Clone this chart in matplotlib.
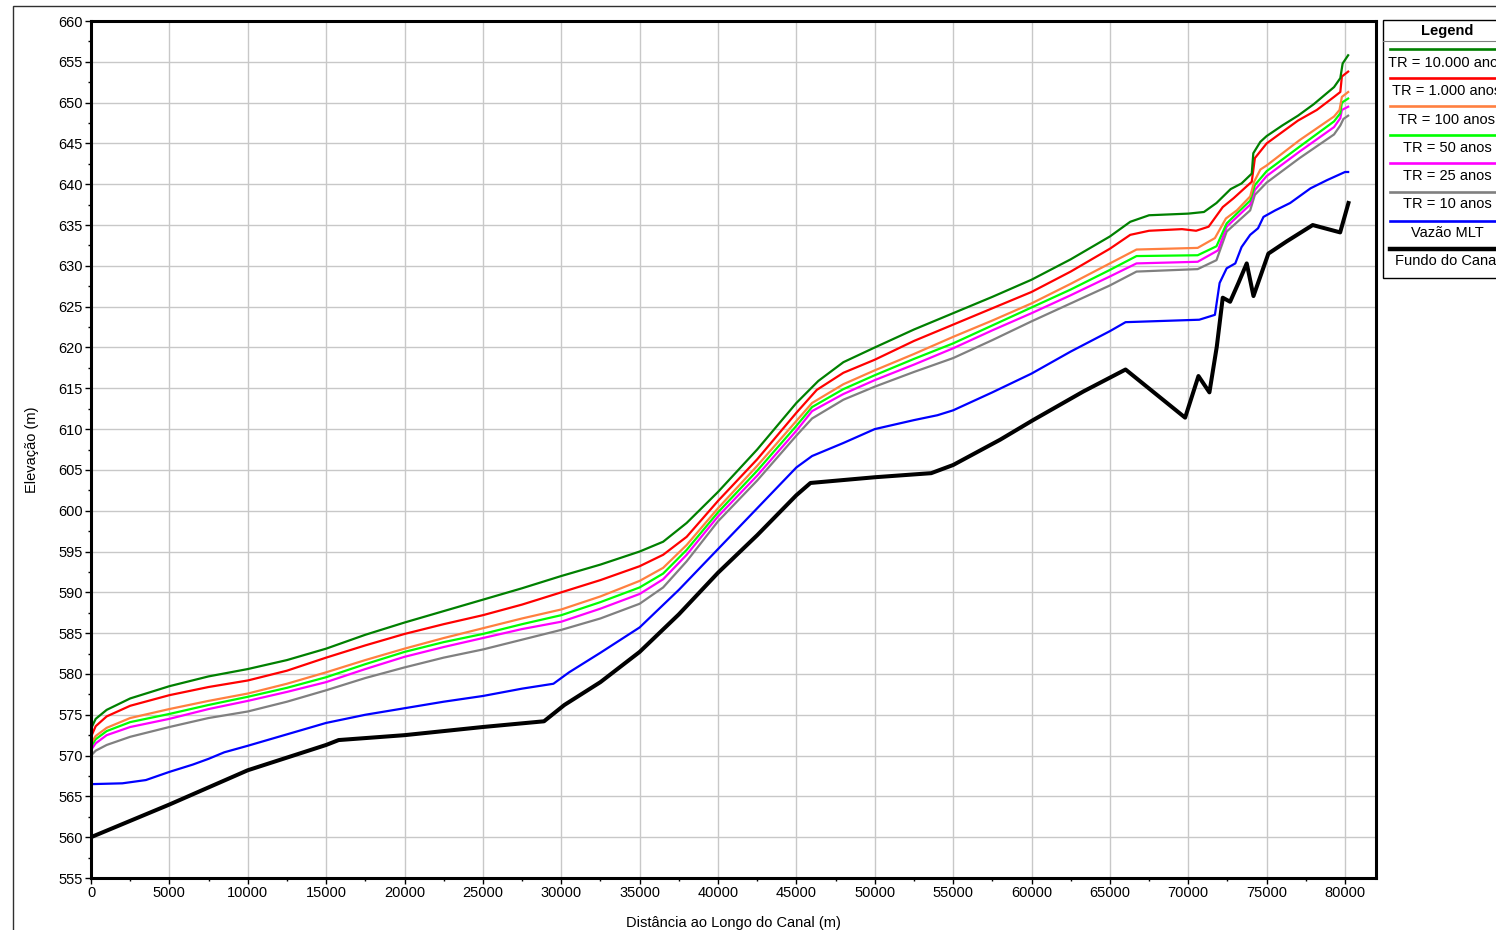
import matplotlib
matplotlib.use("Agg")
import matplotlib.pyplot as plt
from matplotlib.lines import Line2D
from matplotlib.patches import Rectangle
from matplotlib.ticker import MultipleLocator

plt.rcParams['font.family'] = ['Liberation Sans', 'DejaVu Sans']

# ---------------- data ----------------
x_tr10000 = [0, 300, 1000, 2500, 5000, 7500, 10000, 12500, 15000, 17500, 20000, 22500, 25000, 27500,
             30000, 32500, 35000, 36500, 38000, 40000, 42500, 45000, 46400, 48000, 50000, 52500, 55000,
             57500, 60000, 62500, 65000, 66300, 67500, 70000, 71000, 71800, 72700, 73400, 74050, 74150,
             74600, 75000, 76000, 77000, 78000, 79300, 79700, 79850, 80200]
y_tr10000 = [573.3, 574.5, 575.6, 577.0, 578.5, 579.7, 580.6, 581.7, 583.1, 584.8, 586.3, 587.7, 589.1, 590.5,
             592.0, 593.4, 595.0, 596.2, 598.5, 602.3, 607.5, 613.2, 615.9, 618.2, 620.0, 622.2, 624.2,
             626.2, 628.3, 630.8, 633.6, 635.4, 636.2, 636.4, 636.6, 637.7, 639.4, 640.1, 641.3, 643.8,
             645.2, 645.9, 647.2, 648.4, 649.8, 651.9, 653.0, 654.8, 655.8]

x_tr1000 = [0, 300, 1000, 2500, 5000, 7500, 10000, 12500, 15000, 17500, 20000, 22500, 25000, 27500,
            30000, 32500, 35000, 36500, 38000, 40000, 42500, 45000, 46300, 48000, 50000, 52500, 55000,
            57500, 60000, 62500, 65000, 66300, 67500, 69600, 70500, 71300, 72200, 72900, 73700, 74050,
            74250, 75000, 76000, 77000, 78200, 79300, 79700, 79800, 80200]
y_tr1000 = [572.3, 573.6, 574.8, 576.1, 577.4, 578.4, 579.2, 580.4, 582.0, 583.5, 584.9, 586.1, 587.2, 588.5,
            590.0, 591.5, 593.2, 594.6, 596.8, 601.2, 606.3, 612.0, 614.8, 616.9, 618.5, 620.8, 622.8,
            624.8, 626.8, 629.3, 632.1, 633.8, 634.3, 634.5, 634.3, 634.8, 637.2, 638.3, 639.7, 640.3,
            643.2, 645.0, 646.4, 647.8, 649.1, 650.7, 651.3, 653.2, 653.8]

x_tr100 = [0, 300, 1000, 2500, 5000, 7500, 10000, 12500, 15000, 17500, 20000, 22500, 25000, 27500,
           30000, 32500, 35000, 36500, 38000, 40000, 42500, 45000, 46000, 48000, 50000, 52500, 55000,
           57500, 60000, 62500, 65000, 66700, 70600, 71700, 72400, 73100, 73950, 74200, 74600, 75000,
           77100, 79300, 79650, 79800, 80200]
y_tr100 = [571.5, 572.4, 573.4, 574.6, 575.7, 576.7, 577.6, 578.8, 580.2, 581.7, 583.1, 584.4, 585.6, 586.8,
           587.9, 589.5, 591.4, 593.0, 595.8, 600.3, 605.5, 611.0, 613.2, 615.5, 617.2, 619.2, 621.3,
           623.3, 625.4, 627.8, 630.3, 632.0, 632.2, 633.4, 635.8, 636.8, 638.5, 640.3, 641.8, 642.3,
           645.4, 648.3, 649.1, 650.7, 651.3]

x_tr50 = [0, 300, 1000, 2500, 5000, 7500, 10000, 12500, 15000, 17500, 20000, 22500, 25000, 27500,
          30000, 32500, 35000, 36500, 38000, 40000, 42500, 45000, 46000, 48000, 50000, 52500, 55000,
          57500, 60000, 62500, 65000, 66700, 70600, 71800, 72450, 73950, 74250, 75000, 77100, 79300,
          79700, 79800, 80200]
y_tr50 = [571.1, 572.0, 573.0, 574.1, 575.1, 576.2, 577.2, 578.3, 579.6, 581.2, 582.7, 583.9, 584.9, 586.1,
          587.2, 588.8, 590.6, 592.3, 595.2, 599.8, 604.9, 610.4, 612.7, 614.9, 616.6, 618.6, 620.5,
          622.7, 624.9, 627.1, 629.5, 631.2, 631.3, 632.4, 635.2, 638.0, 639.9, 641.6, 644.6, 647.7,
          648.7, 650.0, 650.5]

x_tr25 = [0, 300, 1000, 2500, 5000, 7500, 10000, 12500, 15000, 17500, 20000, 22500, 25000, 27500,
          30000, 32500, 35000, 36500, 38000, 40000, 42500, 45000, 46000, 48000, 50000, 52500, 55000,
          57500, 60000, 62500, 65000, 66700, 70600, 71900, 72450, 73950, 74250, 75000, 77100, 79300,
          79700, 79800, 80200]
y_tr25 = [570.7, 571.5, 572.5, 573.5, 574.5, 575.7, 576.7, 577.8, 579.0, 580.6, 582.1, 583.3, 584.4, 585.5,
          586.4, 588.0, 589.8, 591.6, 594.6, 599.3, 604.3, 609.8, 612.2, 614.3, 616.0, 617.9, 619.9,
          622.1, 624.2, 626.4, 628.7, 630.3, 630.5, 631.9, 634.8, 637.5, 639.3, 641.0, 644.0, 647.0,
          648.1, 649.1, 649.5]

x_tr10 = [0, 300, 1000, 2500, 5000, 7500, 10000, 12500, 15000, 17500, 20000, 22500, 25000, 27500,
          30000, 32500, 35000, 36500, 38000, 40000, 42500, 45000, 46000, 48000, 50000, 52500, 55000,
          57500, 60000, 62500, 65000, 66700, 70600, 71800, 72450, 73950, 74250, 75000, 77100, 79300,
          79700, 79900, 80200]
y_tr10 = [570.0, 570.6, 571.3, 572.3, 573.5, 574.6, 575.4, 576.6, 578.0, 579.5, 580.8, 582.0, 583.0, 584.2,
          585.4, 586.8, 588.6, 590.6, 593.8, 598.7, 603.7, 609.2, 611.3, 613.6, 615.2, 617.0, 618.7,
          620.9, 623.2, 625.4, 627.6, 629.3, 629.6, 630.7, 634.2, 636.8, 638.7, 640.2, 643.2, 646.1,
          647.2, 648.0, 648.4]

x_mlt = [0, 2000, 3500, 5000, 6500, 7500, 8500, 10000, 12500, 15000, 17500, 20000, 22500, 25000, 27500,
         29500, 30500, 32500, 35000, 37500, 40000, 42500, 45000, 46000, 48000, 50000, 52500, 54000,
         55000, 57500, 60000, 62500, 65000, 66000, 70700, 71700, 72000, 72450, 73000, 73400, 73950,
         74450, 74800, 75550, 76500, 77800, 78850, 80000, 80200]
y_mlt = [566.5, 566.6, 567.0, 568.0, 568.9, 569.6, 570.4, 571.2, 572.6, 574.0, 575.0, 575.8, 576.6, 577.3, 578.2,
         578.8, 580.2, 582.6, 585.7, 590.3, 595.3, 600.3, 605.3, 606.7, 608.3, 610.0, 611.1, 611.7,
         612.3, 614.5, 616.8, 619.5, 622.0, 623.1, 623.4, 624.0, 627.9, 629.7, 630.3, 632.3, 633.8,
         634.6, 636.0, 636.8, 637.7, 639.5, 640.5, 641.5, 641.5]

x_fundo = [0, 5000, 10000, 15000, 15800, 20000, 25000, 28900, 30200, 32500, 35000, 37500, 40000, 42500,
           45000, 45900, 50000, 53600, 55000, 58000, 60100, 63300, 66000, 69800, 70650, 71350, 71820,
           72200, 72670, 73200, 73730, 74160, 75110, 76280, 77940, 79690, 80220]
y_fundo = [560.0, 564.0, 568.2, 571.3, 571.9, 572.5, 573.5, 574.2, 576.2, 579.0, 582.7, 587.3, 592.4, 597.0,
           601.9, 603.4, 604.1, 604.6, 605.6, 608.7, 611.1, 614.6, 617.3, 611.4, 616.5, 614.5, 620.1,
           626.1, 625.6, 627.9, 630.3, 626.3, 631.5, 633.0, 635.0, 634.1, 637.7]

series_labels = ["TR = 10.000 anos", "TR = 1.000 anos", "TR = 100 anos", "TR = 50 anos",
                 "TR = 25 anos", "TR = 10 anos", "Vazão MLT", "Fundo do Canal"]
series_colors = ["#008000", "#ff0000", "#ff8040", "#00ff00", "#ff00ff", "#808080", "#0000ff", "#000000"]
series_widths = [1.6, 1.6, 1.6, 1.6, 1.6, 1.6, 1.6, 2.9]

xs = [x_tr10000, x_tr1000, x_tr100, x_tr50, x_tr25, x_tr10, x_mlt, x_fundo]
ys = [y_tr10000, y_tr1000, y_tr100, y_tr50, y_tr25, y_tr10, y_mlt, y_fundo]

W, H = 1496, 930
fig = plt.figure(figsize=(W / 100, H / 100), dpi=100)
ax = fig.add_axes([91 / W, 1 - 878 / H, (1376 - 91) / W, (878 - 21) / H])

for xv, yv, c, lw in zip(xs[::-1], ys[::-1], series_colors[::-1], series_widths[::-1]):
    ax.plot(xv, yv, color=c, lw=lw, solid_joinstyle='round')

ax.set_xlim(0, 81977)
ax.set_ylim(555, 660)
ax.xaxis.set_major_locator(MultipleLocator(5000))
ax.xaxis.set_minor_locator(MultipleLocator(2500))
ax.yaxis.set_major_locator(MultipleLocator(5))
ax.yaxis.set_minor_locator(MultipleLocator(2.5))
ax.grid(True, which='major', color='#c8c8c8', lw=1.0)
ax.set_axisbelow(True)
for s in ax.spines.values():
    s.set_linewidth(2.2)
    s.set_color('black')
ax.tick_params(which='major', direction='out', length=4.5, width=1.0, labelsize=10.5, pad=1.5, colors='black')
ax.tick_params(which='minor', direction='out', length=2.5, width=1.0)
ax.set_xlabel("Distância ao Longo do Canal (m)", fontsize=10.5, labelpad=11)
ax.set_ylabel("Elevação (m)", fontsize=10.5, labelpad=14)

# outer frame (partially clipped by figure edge)
fig.add_artist(Rectangle((12.5 / W, -0.1), 1.2, 1 - 6 / H + 0.1, transform=fig.transFigure,
                         fill=False, edgecolor='#303030', lw=1.0))


def fx(px):
    return px / W


def fy(py):
    return 1 - py / H


# custom legend box (extends past the figure edge, as in the reference)
fig.add_artist(Rectangle((fx(1382.5), fy(278.5)), fx(1520) - fx(1382.5), fy(20) - fy(278.5),
                         transform=fig.transFigure, fill=True, facecolor='white',
                         edgecolor='black', lw=1.0))
fig.text(fx(1447), fy(30.5), "Legend", ha='center', va='center', fontsize=10.5, fontweight='bold')
fig.add_artist(Line2D([fx(1382.5), fx(1520)], [fy(41.5), fy(41.5)], transform=fig.transFigure,
                      color='#808080', lw=0.8))
for i, (lab, c, lw) in enumerate(zip(series_labels, series_colors, series_widths)):
    ly = 49.0 + i * 28.6
    ty = 63.0 + i * 28.3
    fig.add_artist(Line2D([fx(1390), fx(1520)], [fy(ly), fy(ly)], transform=fig.transFigure,
                          color=c, lw=lw + 0.3))
    fig.text(fx(1447), fy(ty), lab, ha='center', va='center', fontsize=10.5)

fig.savefig("out.png", dpi=100)
